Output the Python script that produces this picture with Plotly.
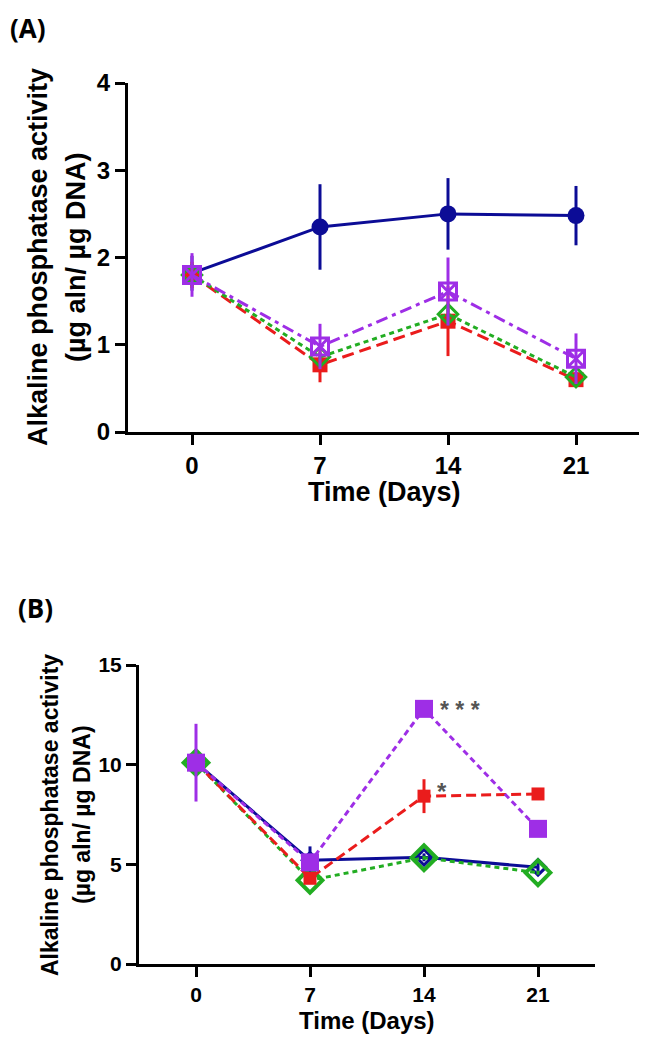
import plotly.graph_objects as go

days = [0, 7, 14, 21]

# Panel A
a_blue = [1.82, 2.35, 2.50, 2.48]
a_blue_err = [0.20, 0.49, 0.41, 0.34]
a_red = [1.80, 0.77, 1.27, 0.60]
a_red_err = [0.15, 0.20, 0.40, 0.05]
a_green = [1.80, 0.86, 1.35, 0.63]
a_green_err = [0.10, 0.05, 0.08, 0.05]
a_purple = [1.80, 0.98, 1.61, 0.84]
a_purple_err = [0.25, 0.26, 0.39, 0.29]

# Panel B
b_blue = [10.1, 5.2, 5.35, 4.85]
b_blue_err = [0.3, 0.7, 0.2, 0.3]
b_red = [10.1, 4.3, 8.42, 8.53]
b_red_err = [0.2, 0.2, 0.85, 0.15]
b_green = [10.1, 4.2, 5.33, 4.58]
b_green_err = [0.1, 0.1, 0.1, 0.1]
b_purple = [10.1, 5.1, 12.8, 6.78]
b_purple_err = [1.95, 0.3, 0.3, 0.3]

x_ticks = [0, 7, 14, 21]
a_yticks = [0, 1, 2, 3, 4]
b_yticks = [0, 5, 10, 15]

y_title_1 = "Alkaline phosphatase activity"
y_title_2 = "(µg aln/ µg DNA)"
x_title = "Time (Days)"

BLUE = "#0c0c96"
RED = "#ea1c1c"
GREEN = "#22ad22"
PURPLE = "#9e2ee6"

W, H = 639, 1030
OFF = 8  # page body margin


def px_x(p):
    return (p - OFF) / W


def px_y(p):
    return 1 - (p - OFF) / H


fig = go.Figure()


def add(x, y, err, color, dash, symbol, size, xa, ya, mline=None, lw=3):
    fig.add_trace(go.Scatter(
        x=x, y=y, mode="lines+markers", xaxis=xa, yaxis=ya,
        line=dict(color=color, width=lw, dash=dash),
        marker=dict(symbol=symbol, size=size, color=color,
                    line=dict(color=color, width=mline if mline else 0)),
        error_y=dict(type="data", array=err, visible=True, color=color,
                     thickness=3, width=0),
        showlegend=False,
    ))


# Panel A
add(days, a_blue, a_blue_err, BLUE, "solid", "circle", 17, "x", "y")
add(days, a_red, a_red_err, RED, "12px,6px", "square", 15, "x", "y")
add(days, a_green, a_green_err, GREEN, "5px,4px", "diamond-open", 15, "x", "y", mline=3)
add(days, a_purple, a_purple_err, PURPLE, "12px,5px,4px,5px", "square-x-open", 17, "x", "y", mline=3)

# Panel B
add(days, b_blue, b_blue_err, BLUE, "solid", "diamond-open", 12, "x2", "y2", mline=3)
add(days, b_green, b_green_err, GREEN, "5px,4px", "diamond-open", 19, "x2", "y2", mline=4)
add(days, b_red, b_red_err, RED, "10px,5px", "square", 13, "x2", "y2")
add(days, b_purple, b_purple_err, PURPLE, "6px,4px", "square", 18, "x2", "y2")

FONT = "Liberation Sans"


def xaxis(domain, tsize):
    return dict(domain=domain, range=[-3.5, 24.5], tickvals=x_ticks, automargin=False,
                showline=True, linecolor="black", linewidth=3,
                ticks="outside", ticklen=10, tickwidth=3, tickcolor="black",
                showgrid=False, zeroline=False,
                tickfont=dict(family=FONT, size=tsize, color="black", weight="bold"))


def yaxis(domain, rng, ticks, tsize, anchor):
    return dict(domain=domain, range=rng, tickvals=ticks, anchor=anchor, automargin=False,
                showline=True, linecolor="black", linewidth=3,
                ticks="outside", ticklen=10, tickwidth=3, tickcolor="black",
                showgrid=False, zeroline=False,
                tickfont=dict(family=FONT, size=tsize, color="black", weight="bold"))


def text(t, x, y, size, angle=0, family=FONT, color="black", xanchor="center", yanchor="middle",
         xref="paper", yref="paper"):
    return dict(text=t, x=x, y=y, xref=xref, yref=yref, textangle=angle,
                xanchor=xanchor, yanchor=yanchor, showarrow=False,
                font=dict(family=family, size=size, color=color, weight="bold"))


annotations = [
    # panel A titles
    text(y_title_1, px_x(38), px_y(257), 27, angle=-90),
    text(y_title_2, px_x(76), px_y(257), 27, angle=-90),
    text(x_title, px_x(384), px_y(492), 27),
    # panel B titles
    text(y_title_1, px_x(50), px_y(815), 23, angle=-90),
    text(y_title_2, px_x(82), px_y(815), 23, angle=-90),
    text(x_title, px_x(367), px_y(1020), 24),
    # panel letters
    text("(A)", 0, 1, 26, family="Open Sans", xanchor="left", yanchor="top"),
    text("(B)", px_x(16), px_y(608), 26, family="Open Sans", xanchor="left"),
    # significance
    text("* * *", 16.2, 12.74, 23, color="#555555", xref="x2", yref="y2"),
    text("*", 15.1, 8.63, 24, color="#555555", xref="x2", yref="y2"),
]

fig.update_layout(
    width=W, height=H,
    margin=dict(l=0, r=0, t=0, b=0, autoexpand=False),
    paper_bgcolor="white", plot_bgcolor="white",
    xaxis=dict(**xaxis([px_x(128), px_x(640)], 24), anchor="y"),
    yaxis=yaxis([px_y(432), px_y(83)], [0, 4], a_yticks, 24, "x"),
    xaxis2=dict(**xaxis([px_x(139), px_x(595)], 21), anchor="y2"),
    yaxis2=yaxis([px_y(964), px_y(665)], [0, 15], b_yticks, 21, "x2"),
    annotations=annotations,
)

fig.write_html("out.html")
